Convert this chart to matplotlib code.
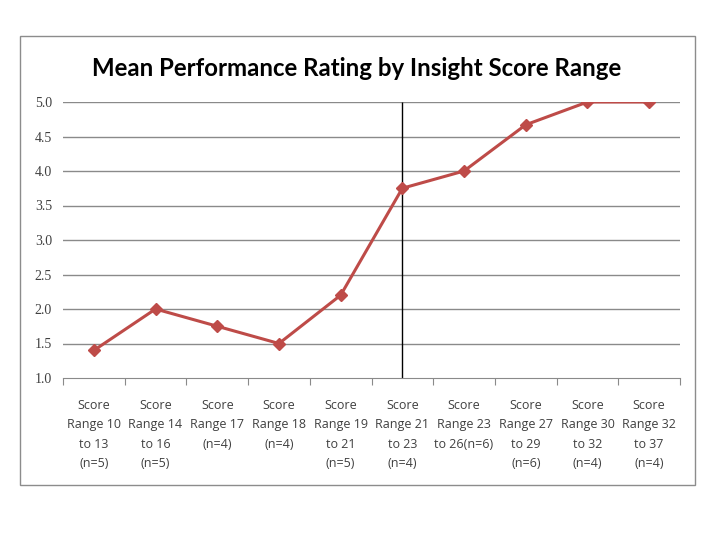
import matplotlib
matplotlib.use("Agg")
import matplotlib.pyplot as plt
from matplotlib.patches import Rectangle

categories = [
    "Score\nRange 10\nto 13\n(n=5)",
    "Score\nRange 14\nto 16\n(n=5)",
    "Score\nRange 17\n(n=4)",
    "Score\nRange 18\n(n=4)",
    "Score\nRange 19\nto 21\n(n=5)",
    "Score\nRange 21\nto 23\n(n=4)",
    "Score\nRange 23\nto 26(n=6)",
    "Score\nRange 27\nto 29\n(n=6)",
    "Score\nRange 30\nto 32\n(n=4)",
    "Score\nRange 32\nto 37\n(n=4)",
]
values = [1.4, 2.0, 1.75, 1.5, 2.2, 3.75, 4.0, 4.67, 5.0, 5.0]
yticks = [1.0, 1.5, 2.0, 2.5, 3.0, 3.5, 4.0, 4.5, 5.0]
marker_index = 5
title = "Mean Performance Rating by Insight Score Range"

fig = plt.figure(figsize=(7.2, 5.4), dpi=100)
fig.patches.append(Rectangle((20/720, 1-485/540), 675/720, 449/540,
                             transform=fig.transFigure, fill=False,
                             edgecolor="#8c8c8c", linewidth=1.0))
ax = fig.add_axes([63/720, 1-378/540, 617/720, 276/540])
x = list(range(len(values)))
ax.plot(x, values, color="#BE4B48", linewidth=2.2, marker="D", markersize=6.5,
        markerfacecolor="#BE4B48", markeredgecolor="#BE4B48", zorder=3)
ax.vlines(marker_index, 1.0, 5.0, color="black", linewidth=1.0, zorder=2)

ax.set_xlim(-0.5, len(values) - 0.5)
ax.set_ylim(1.0, 5.0)
ax.set_yticks(yticks)
ax.set_yticklabels([f"{v:.1f}" for v in yticks], fontsize=10, color="#404040",
                   family="Liberation Serif")
for yv in yticks[1:]:
    ax.axhline(yv, color="#8a8a8a", linewidth=1.0, zorder=1)
for s in ["top", "right", "left"]:
    ax.spines[s].set_visible(False)
ax.spines["bottom"].set_color("#8a8a8a")
ax.tick_params(axis="y", length=0, pad=8)

ax.set_xticks([i + 0.5 for i in range(-1, len(values))], minor=False)
ax.set_xticklabels([])
ax.tick_params(axis="x", which="major", length=5, color="#8a8a8a", direction="out")
ax.set_xticks(x, minor=True)
ax.set_xticklabels(categories, minor=True, fontsize=9, color="#404040",
                   family="Open Sans", linespacing=1.65)
ax.tick_params(axis="x", which="minor", length=0, pad=15)

fig.text(357/720, 1-68/540, title, ha="center", va="center", fontsize=17.3,
         fontweight="bold", family="Lato", color="black")

fig.savefig("out.png", dpi=100)
